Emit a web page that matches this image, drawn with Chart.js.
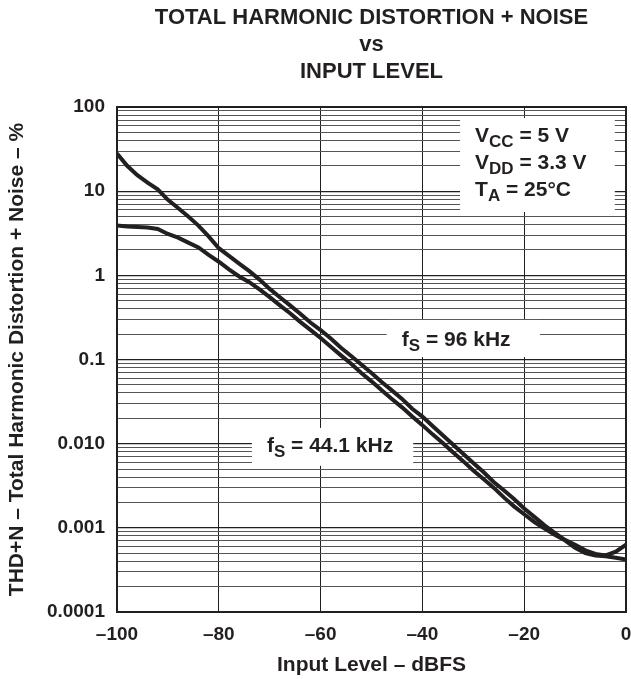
<!DOCTYPE html>
<html>
<head>
<meta charset="utf-8">
<script src="https://cdn.jsdelivr.net/npm/chart.js@4.4.1/dist/chart.umd.min.js"></script>
<style>
  body { margin: 0; background: #fff; }
  #wrap { width: 631px; height: 679px; }
</style>
</head>
<body>
<div id="wrap"><canvas id="thdChart"></canvas></div>
<script>
// Input level in dBFS
const inputLevel = [-100, -98, -96, -94, -92, -90, -88, -86, -84, -82,
    -80, -78, -76, -74, -72, -70, -68, -66, -64, -62,
    -60, -58, -56, -54, -52, -50, -48, -46, -44, -42,
    -40, -38, -36, -34, -32, -30, -28, -26, -24, -22,
    -20, -18, -16, -14, -12, -10, -8, -6, -4, -2, 0];

// THD+N in % for fS = 96 kHz
const thd96 = [28, 20, 15.5, 12.6, 10.5, 7.9, 6.3, 5.0, 3.9, 2.9,
    2.1, 1.7, 1.38, 1.12, 0.89, 0.69, 0.55, 0.44, 0.35, 0.275,
    0.224, 0.178, 0.138, 0.11, 0.087, 0.069, 0.054, 0.043, 0.034, 0.026,
    0.021, 0.0162, 0.0126, 0.0098, 0.0076, 0.0059, 0.0046, 0.0035, 0.0028, 0.0022,
    0.0017, 0.00135, 0.00107, 0.00087, 0.00072, 0.00063, 0.00054, 0.00049, 0.00047, 0.00052, 0.00063];

// THD+N in % for fS = 44.1 kHz
const thd441 = [3.9, 3.8, 3.75, 3.7, 3.55, 3.1, 2.8, 2.45, 2.15, 1.75,
    1.45, 1.18, 0.97, 0.83, 0.68, 0.55, 0.44, 0.355, 0.28, 0.225,
    0.18, 0.142, 0.112, 0.089, 0.069, 0.055, 0.043, 0.034, 0.027, 0.021,
    0.0166, 0.0129, 0.0102, 0.0079, 0.0062, 0.0048, 0.0038, 0.0030, 0.0023, 0.0018,
    0.00145, 0.00117, 0.00098, 0.00083, 0.00071, 0.00058, 0.0005, 0.00047, 0.00046, 0.00044, 0.00042];

// Axis ticks
const xTicks = [-100, -80, -60, -40, -20, 0];
const xTickLabels = ['\u2013100', '\u201380', '\u201360', '\u201340', '\u201320', '0'];
const yDecades = [0.0001, 0.001, 0.01, 0.1, 1, 10, 100];
const yTickLabels = ['0.0001', '0.001', '0.010', '0.1', '1', '10', '100'];
const yMinorSteps = [2, 3, 4, 5, 6, 7, 8, 9];

const titleLines = ['TOTAL HARMONIC DISTORTION + NOISE', 'vs', 'INPUT LEVEL'];
const xTitle = 'Input Level \u2013 dBFS';
const yTitle = 'THD+N \u2013 Total Harmonic Distortion + Noise \u2013 %';

const FONT = "'Liberation Sans', Arial, sans-serif";
const INK = '#231f20';

// Text boxes (corners in data units), lines split into [text, subscript]
const notes = [
    { x0: -32.6, x1: -2.2, y0: 74, y1: 5.66, dy: 18,
      lines: [
          [['V', 0], ['CC', 1], [' = 5 V', 0]],
          [['V', 0], ['DD', 1], [' = 3.3 V', 0]],
          [['T', 0], ['A', 1], [' = 25\u00B0C', 0]]
      ] },
    { x0: -47.0, x1: -16.9, y0: 0.295, y1: 0.107, dy: 20,
      lines: [[['f', 0], ['S', 1], [' = 96 kHz', 0]]] },
    { x0: -73.5, x1: -41.8, y0: 0.0154, y1: 0.00546, dy: 18,
      lines: [[['f', 0], ['S', 1], [' = 44.1 kHz', 0]]] }
];

function isDecade(v) {
    return yDecades.some(d => Math.abs(v - d) / d < 1e-6);
}

const notesPlugin = {
    id: 'notes',
    beforeDatasetsDraw(chart) {
        const ctx = chart.ctx;
        const xs = chart.scales.x;
        const ys = chart.scales.y;
        ctx.save();
        notes.forEach(n => {
            const left = xs.getPixelForValue(n.x0);
            const right = xs.getPixelForValue(n.x1);
            const top = ys.getPixelForValue(n.y0);
            const bottom = ys.getPixelForValue(n.y1);
            ctx.fillStyle = '#fff';
            ctx.fillRect(left, top, right - left, bottom - top);
            ctx.fillStyle = INK;
            ctx.textBaseline = 'middle';
            n.lines.forEach((line, i) => {
                let x = left + 15;
                const y = top + n.dy + i * 27;
                line.forEach(seg => {
                    ctx.font = seg[1] ? 'bold 17px ' + FONT : 'bold 21px ' + FONT;
                    ctx.fillText(seg[0], x, seg[1] ? y + 6 : y);
                    x += ctx.measureText(seg[0]).width;
                });
            });
        });
        ctx.restore();
    },
    afterDraw(chart) {
        const a = chart.chartArea;
        const ctx = chart.ctx;
        ctx.save();
        ctx.strokeStyle = INK;
        ctx.lineWidth = 2;
        ctx.strokeRect(a.left, a.top, a.right - a.left, a.bottom - a.top);
        ctx.restore();
    }
};

const ctx = document.getElementById('thdChart').getContext('2d');
window.thdChart = new Chart(ctx, {
    type: 'line',
    data: {
        labels: inputLevel,
        datasets: [{
            label: 'fS = 96 kHz',
            data: inputLevel.map((x, i) => ({ x: x, y: thd96[i] })),
            borderColor: INK,
            borderWidth: 4,
            pointRadius: 0,
            tension: 0
        }, {
            label: 'fS = 44.1 kHz',
            data: inputLevel.map((x, i) => ({ x: x, y: thd441[i] })),
            borderColor: INK,
            borderWidth: 4,
            pointRadius: 0,
            tension: 0
        }]
    },
    options: {
        responsive: true,
        maintainAspectRatio: false,
        animation: false,
        devicePixelRatio: 1,
        layout: { padding: { left: 0, right: 5, top: 0, bottom: 0 } },
        plugins: {
            legend: { display: false },
            tooltip: { enabled: false },
            title: {
                display: true,
                fullSize: false,
                text: titleLines,
                color: INK,
                font: { family: FONT, size: 22, weight: 'bold', lineHeight: 27 / 22 },
                padding: { top: 4.5, bottom: 21.5 }
            }
        },
        scales: {
            x: {
                type: 'linear',
                min: -100,
                max: 0,
                afterFit(scale) {
                    scale.height = 67;
                    scale.paddingLeft = 0;
                    scale.paddingRight = 0;
                },
                afterBuildTicks(scale) {
                    scale.ticks = xTicks.map(v => ({ value: v }));
                },
                ticks: {
                    autoSkip: false,
                    maxRotation: 0,
                    padding: 11,
                    color: INK,
                    font: { family: FONT, size: 19, weight: 'bold' },
                    callback: (v) => xTickLabels[xTicks.indexOf(v)]
                },
                grid: { color: INK, lineWidth: 1, drawTicks: false },
                border: { display: false },
                title: {
                    display: true,
                    text: xTitle,
                    color: INK,
                    font: { family: FONT, size: 21, weight: 'bold' },
                    padding: { top: 4, bottom: 1 }
                }
            },
            y: {
                type: 'logarithmic',
                min: 0.0001,
                max: 100,
                afterFit(scale) { scale.width = 117; },
                afterBuildTicks(scale) {
                    const t = [];
                    yDecades.forEach((d, i) => {
                        t.push({ value: d, major: true });
                        if (i < yDecades.length - 1) {
                            yMinorSteps.forEach(m => t.push({ value: d * m, major: false }));
                        }
                    });
                    scale.ticks = t;
                },
                ticks: {
                    autoSkip: false,
                    padding: 12,
                    color: INK,
                    font: { family: FONT, size: 19, weight: 'bold' },
                    callback: (v) => {
                        const i = yDecades.findIndex(d => Math.abs(v - d) / d < 1e-6);
                        return i >= 0 ? yTickLabels[i] : '';
                    }
                },
                grid: {
                    drawTicks: false,
                    color: (c) => (c.tick && isDecade(c.tick.value)) ? INK : '#555',
                    lineWidth: (c) => (c.tick && isDecade(c.tick.value)) ? 1.2 : 1
                },
                border: { display: false },
                title: {
                    display: true,
                    text: yTitle,
                    color: INK,
                    font: { family: FONT, size: 21, weight: 'bold' },
                    padding: { top: 5, bottom: 0 }
                }
            }
        }
    },
    plugins: [notesPlugin]
});
</script>
</body>
</html>
